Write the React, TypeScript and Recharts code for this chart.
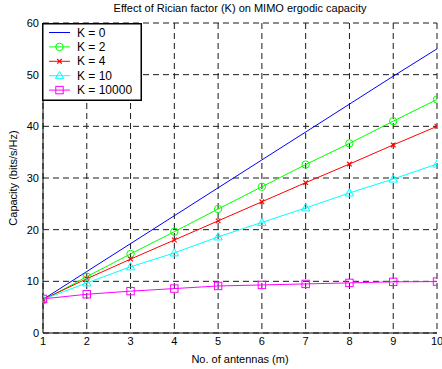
import React from "react";
import { LineChart, Line, XAxis, YAxis, CartesianGrid } from "recharts";

const antennas = [1, 2, 3, 4, 5, 6, 7, 8, 9, 10];
const k0 = [6.5, 11.9, 17.3, 22.7, 28.1, 33.5, 38.9, 44.3, 49.7, 55.0];
const k2 = [6.3, 10.9, 15.3, 19.6, 24.0, 28.3, 32.6, 36.7, 41.0, 45.2];
const k4 = [6.5, 10.5, 14.3, 18.0, 21.7, 25.4, 29.1, 32.7, 36.4, 40.0];
const k10 = [6.5, 9.7, 12.8, 15.5, 18.6, 21.4, 24.2, 27.1, 29.8, 32.7];
const k10000 = [6.6, 7.5, 8.1, 8.6, 9.1, 9.3, 9.5, 9.7, 9.9, 9.95];
const xTicks = [1, 2, 3, 4, 5, 6, 7, 8, 9, 10];
const yTicks = [0, 10, 20, 30, 40, 50, 60];

const seriesNames = ["K = 0", "K = 2", "K = 4", "K = 10", "K = 10000"];
const seriesColors = ["#0000ff", "#00ff00", "#ff0000", "#00ffff", "#ff00ff"];
const seriesMarkers = ["none", "circle", "x", "triangle", "square"];
const seriesKeys = ["k0", "k2", "k4", "k10", "k10000"];

const data = antennas.map((m, i) => ({
  m,
  k0: k0[i],
  k2: k2[i],
  k4: k4[i],
  k10: k10[i],
  k10000: k10000[i],
}));

const FONT = "'Liberation Sans', Arial, Helvetica, sans-serif";

function Marker({ type, cx, cy, color }: { type: string; cx: number; cy: number; color: string }) {
  if (type === "circle") return <circle cx={cx} cy={cy} r={3.7} fill="none" stroke={color} strokeWidth={1} />;
  if (type === "square")
    return <rect x={cx - 3.7} y={cy - 3.7} width={7.4} height={7.4} fill="none" stroke={color} strokeWidth={1} />;
  if (type === "triangle")
    return (
      <polygon
        points={`${cx},${cy - 4.3} ${cx + 4.2},${cy + 3} ${cx - 4.2},${cy + 3}`}
        fill="none"
        stroke={color}
        strokeWidth={1}
      />
    );
  if (type === "x")
    return (
      <g stroke={color} strokeWidth={1.2}>
        <line x1={cx - 2.3} y1={cy - 2.3} x2={cx + 2.3} y2={cy + 2.3} />
        <line x1={cx - 2.3} y1={cy + 2.3} x2={cx + 2.3} y2={cy - 2.3} />
      </g>
    );
  return null;
}

const makeDot = (type: string, color: string) => (props: any) => {
  const { cx, cy, index } = props;
  return (
    <g key={`d-${type}-${index}`}>
      <Marker type={type} cx={cx} cy={cy} color={color} />
    </g>
  );
};

const LegendBox = () => (
  <svg width={100} height={78} style={{ display: "block" }}>
    <rect x={0.75} y={0.75} width={98.5} height={76.5} fill="#ffffff" stroke="#000" strokeWidth={1.5} />
    {seriesNames.map((name, i) => {
      const y = 9.5 + i * 14.4;
      return (
        <g key={name}>
          <line x1={7} y1={y} x2={28} y2={y} stroke={seriesColors[i]} strokeWidth={1} />
          <Marker type={seriesMarkers[i]} cx={17.5} cy={y} color={seriesColors[i]} />
          <text x={35} y={y + 4} fontSize={12} fontFamily={FONT} fill="#000">
            {name}
          </text>
        </g>
      );
    })}
  </svg>
);

export default function App() {
  return (
    <div style={{ position: "absolute", left: 0, top: 0, width: 442, height: 369, background: "#fff" }}>
      <div
        style={{
          position: "absolute",
          left: 0,
          width: 480,
          top: 2,
          textAlign: "center",
          fontFamily: FONT,
          fontSize: 11,
          color: "#000",
          lineHeight: "13px",
        }}
      >
        Effect of Rician factor (K) on MIMO ergodic capacity
      </div>
      <LineChart width={442} height={369} data={data} margin={{ top: 23, right: 5, bottom: 0, left: 0 }}>
        <CartesianGrid stroke="#1a1a1a" strokeDasharray="6 4" strokeWidth={1} />
        <XAxis
          dataKey="m"
          type="number"
          domain={[1, 10]}
          ticks={xTicks}
          tickSize={0}
          tickMargin={4}
          height={36}
          stroke="#000"
          tick={{ fill: "#000", fontSize: 11, fontFamily: FONT }}
          interval={0}
          allowDataOverflow
          label={{ value: "No. of antennas (m)", position: "insideBottom", offset: 6, fill: "#000", fontSize: 11, fontFamily: FONT }}
        />
        <YAxis
          type="number"
          domain={[0, 60]}
          ticks={yTicks}
          tickSize={0}
          tickMargin={4}
          width={43}
          stroke="#000"
          tick={{ fill: "#000", fontSize: 11, fontFamily: FONT }}
          interval={0}
          label={{
            content: (p: any) => {
              const vb = p.viewBox || { x: 0, y: 23, width: 43, height: 310 };
              const cy = vb.y + vb.height / 2;
              return (
                <text
                  x={13}
                  y={cy}
                  transform={`rotate(-90 13 ${cy})`}
                  textAnchor="middle"
                  dominantBaseline="central"
                  fontSize={11}
                  fontFamily={FONT}
                  fill="#000"
                >
                  Capacity (bits/s/Hz)
                </text>
              );
            },
          }}
        />
        {seriesKeys.map((k, i) => (
          <Line
            key={k}
            dataKey={k}
            name={seriesNames[i]}
            stroke={seriesColors[i]}
            strokeWidth={1}
            type="linear"
            isAnimationActive={false}
            dot={seriesMarkers[i] === "none" ? false : makeDot(seriesMarkers[i], seriesColors[i])}
            activeDot={false}
          />
        ))}
      </LineChart>
      <div style={{ position: "absolute", left: 42, top: 23 }}>
        <LegendBox />
      </div>
    </div>
  );
}
